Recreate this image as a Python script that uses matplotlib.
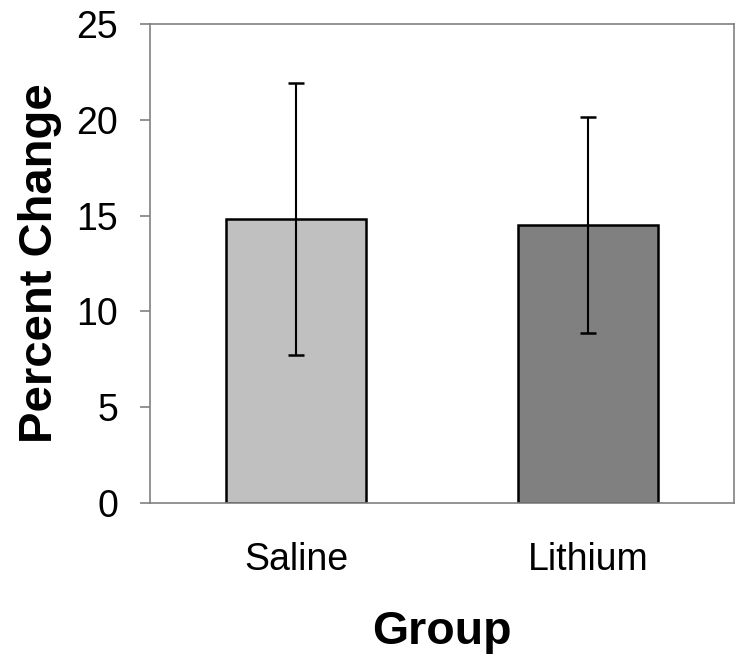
import numpy as np
import matplotlib.pyplot as plt

plt.rcParams['font.family'] = ['Liberation Sans', 'DejaVu Sans']

# Data
groups = ['Saline', 'Lithium']
means = [14.8, 14.5]
errors = [7.1, 5.65]
colors = ['#c0c0c0', '#808080']

fig = plt.figure(figsize=(7.5, 6.64), dpi=100)
ax = fig.add_axes([0.2, 0.2425, 0.7787, 0.7214])

x = np.arange(len(groups))
ax.bar(x, means, width=0.48, color=colors, edgecolor='black', linewidth=1.8, zorder=2)
ax.errorbar(x, means, yerr=errors, fmt='none', ecolor='black',
            elinewidth=1.5, capsize=5.5, capthick=1.8, zorder=3)

ax.set_xlim(-0.5, 1.5)
ax.set_ylim(0, 25)
ax.set_yticks(np.arange(0, 26, 5))
ax.set_xticks(x)
ax.set_xticklabels(groups)

for s in ax.spines.values():
    s.set_color('#808080')
    s.set_linewidth(1.2)

ax.tick_params(axis='y', length=7, width=1.2, color='#808080', labelsize=27, pad=16)
ax.tick_params(axis='x', length=0, labelsize=27, pad=28)

ax.set_xlabel('Group', fontsize=33.5, fontweight='bold', labelpad=23)
ax.set_ylabel('Percent Change', fontsize=34, fontweight='bold', labelpad=10)

fig.savefig('out.png', dpi=100)
